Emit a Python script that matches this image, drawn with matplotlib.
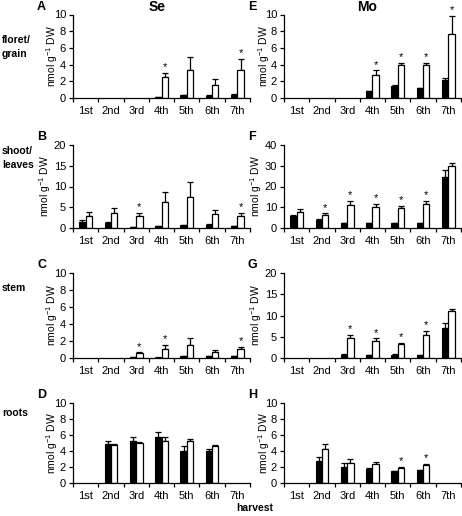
import matplotlib
matplotlib.use("Agg")
import matplotlib.pyplot as plt
import numpy as np

plt.rcParams['font.family'] = ['Liberation Sans', 'DejaVu Sans']
plt.rcParams['mathtext.fontset'] = 'custom'
plt.rcParams['mathtext.rm'] = 'Liberation Sans'
plt.rcParams['mathtext.default'] = 'regular'

harvests = ["1st", "2nd", "3rd", "4th", "5th", "6th", "7th"]
nan = np.nan

# Se floret/grain (A)
A_ctrl = [nan, nan, nan, 0.1, 0.35, 0.25, 0.4]
A_ctrl_err = [0, 0, 0, 0.02, 0.05, 0.05, 0.05]
A_trt = [nan, nan, nan, 2.5, 3.3, 1.5, 3.4]
A_trt_err = [0, 0, 0, 0.5, 1.6, 0.75, 1.25]
A_sig = [3, 6]

# Se shoot/leaves (B)
B_ctrl = [1.5, 1.3, 0.3, 0.5, 0.7, 0.8, 0.5]
B_ctrl_err = [0.5, 0.1, 0.05, 0.1, 0.1, 0.1, 0.05]
B_trt = [2.8, 3.6, 2.9, 6.3, 7.5, 3.3, 2.8]
B_trt_err = [1.0, 1.3, 0.7, 2.3, 3.7, 1.1, 0.8]
B_sig = [2, 6]

# Se stem (C)
C_ctrl = [nan, nan, 0.1, 0.05, 0.2, 0.2, 0.2]
C_ctrl_err = [0, 0, 0.02, 0.02, 0.05, 0.05, 0.05]
C_trt = [nan, nan, 0.6, 1.1, 1.5, 0.7, 1.05]
C_trt_err = [0, 0, 0.05, 0.4, 0.8, 0.25, 0.3]
C_sig = [2, 3, 6]

# Se roots (D)
D_ctrl = [nan, 4.9, 5.3, 5.7, 4.0, 4.0, nan]
D_ctrl_err = [0, 0.4, 0.4, 0.7, 0.6, 0.3, 0]
D_trt = [nan, 4.8, 5.0, 5.2, 5.2, 4.6, nan]
D_trt_err = [0, 0.1, 0.1, 0.5, 0.3, 0.2, 0]
D_sig = []

# Mo floret/grain (E)
E_ctrl = [nan, nan, nan, 0.8, 1.4, 1.2, 2.1]
E_ctrl_err = [0, 0, 0, 0.05, 0.1, 0.05, 0.3]
E_trt = [nan, nan, nan, 2.8, 4.0, 4.0, 7.7]
E_trt_err = [0, 0, 0, 0.5, 0.25, 0.25, 2.1]
E_sig = [3, 4, 5, 6]

# Mo shoot/leaves (F)
F_ctrl = [6.0, 4.0, 2.5, 2.5, 2.5, 2.5, 24.5]
F_ctrl_err = [0.3, 0.3, 0.1, 0.1, 0.1, 0.1, 3.5]
F_trt = [7.5, 6.5, 11.0, 10.3, 9.5, 11.8, 30.0]
F_trt_err = [1.5, 0.5, 2.0, 1.2, 1.0, 1.2, 1.5]
F_sig = [1, 2, 3, 4, 5]

# Mo stem (G)
G_ctrl = [nan, nan, 0.8, 0.6, 0.8, 0.6, 7.0]
G_ctrl_err = [0, 0, 0.05, 0.05, 0.05, 0.05, 1.2]
G_trt = [nan, nan, 4.8, 4.0, 3.2, 5.3, 11.0]
G_trt_err = [0, 0, 0.6, 0.6, 0.3, 1.0, 0.5]
G_sig = [2, 3, 4, 5]

# Mo roots (H)
H_ctrl = [nan, 2.7, 2.0, 1.7, 1.5, 1.6, nan]
H_ctrl_err = [0, 0.6, 0.5, 0.2, 0.05, 0.05, 0]
H_trt = [nan, 4.3, 2.5, 2.4, 1.9, 2.3, nan]
H_trt_err = [0, 0.6, 0.5, 0.2, 0.1, 0.1, 0]
H_sig = [4, 5]

panels = [
    ("A", A_ctrl, A_ctrl_err, A_trt, A_trt_err, A_sig, 10, 2),
    ("B", B_ctrl, B_ctrl_err, B_trt, B_trt_err, B_sig, 20, 5),
    ("C", C_ctrl, C_ctrl_err, C_trt, C_trt_err, C_sig, 10, 2),
    ("D", D_ctrl, D_ctrl_err, D_trt, D_trt_err, D_sig, 10, 2),
    ("E", E_ctrl, E_ctrl_err, E_trt, E_trt_err, E_sig, 10, 2),
    ("F", F_ctrl, F_ctrl_err, F_trt, F_trt_err, F_sig, 40, 10),
    ("G", G_ctrl, G_ctrl_err, G_trt, G_trt_err, G_sig, 20, 5),
    ("H", H_ctrl, H_ctrl_err, H_trt, H_trt_err, H_sig, 10, 2),
]

W, H = 462, 516
fig = plt.figure(figsize=(W / 100, H / 100), dpi=100)

col_x = [73, 284]
ax_w = 177
row_y = [(14.5, 98), (145, 228), (273, 358), (403, 483)]

fs = 8
for k, (letter, c, ce, t, te, sig, ymax, ystep) in enumerate(panels):
    col = k // 4
    row = k % 4
    y0, y1 = row_y[row]
    ax = fig.add_axes([col_x[col] / W, 1 - y1 / H, ax_w / W, (y1 - y0) / H])
    x = np.arange(len(harvests))
    bw = 0.25
    ax.bar(x - bw / 2, c, bw, color="black", edgecolor="black", linewidth=0.8, zorder=2)
    ax.bar(x + bw / 2, t, bw, color="white", edgecolor="black", linewidth=0.9, zorder=2)
    c_arr = np.array(c, float)
    t_arr = np.array(t, float)
    ce_arr = np.array(ce, float)
    te_arr = np.array(te, float)
    mc = ~np.isnan(c_arr)
    mt = ~np.isnan(t_arr)
    ax.errorbar(x[mc] - bw / 2, c_arr[mc], yerr=[np.zeros(mc.sum()), ce_arr[mc]],
                fmt="none", ecolor="black", elinewidth=0.9, capsize=2.5, capthick=0.9, zorder=1)
    ax.errorbar(x[mt] + bw / 2, t_arr[mt], yerr=[np.zeros(mt.sum()), te_arr[mt]],
                fmt="none", ecolor="black", elinewidth=0.9, capsize=2.5, capthick=0.9, zorder=1)
    for i in sig:
        top = t_arr[i] + te_arr[i]
        ax.text(x[i] + bw / 2, top + ymax * 0.01, "*", ha="center", va="bottom",
                fontsize=8)
    ax.set_xlim(-0.5, len(harvests) - 0.5)
    ax.set_ylim(0, ymax)
    yt = np.arange(0, ymax + 0.1, ystep)
    ax.set_yticks(yt)
    ax.set_yticklabels([str(int(v)) for v in yt], fontsize=fs)
    ax.set_xticks(x)
    ax.set_xticklabels(harvests, fontsize=fs)
    ax.set_xticks(np.arange(-0.5, len(harvests), 1), minor=True)
    ax.tick_params(axis="x", which="major", length=0, pad=6)
    ax.tick_params(axis="x", which="minor", length=3, width=0.9, direction="out")
    ax.tick_params(axis="y", length=3, width=0.9, direction="out", pad=2)
    for s in ["top", "right"]:
        ax.spines[s].set_visible(False)
    for s in ["left", "bottom"]:
        ax.spines[s].set_linewidth(0.9)
    ax.set_ylabel("nmol g$^{-1}$ DW", fontsize=7.5)
    off = 20 if ymax >= 20 else 12.5
    ax.yaxis.set_label_coords(-off / ax_w, 0.5)
    fig.text((col_x[col] - 36) / W, 1 - (y0 - 8) / H, letter, fontsize=9,
             fontweight="bold", ha="left", va="center")

row_labels = ["floret/\ngrain", "shoot/\nleaves", "stem", "roots"]
row_label_y = [47, 158, 288, 413]
for lab, yy in zip(row_labels, row_label_y):
    fig.text(2 / W, 1 - yy / H, lab, fontsize=7.5, fontweight="bold",
             ha="left", va="center", linespacing=1.5)

fig.text(157 / W, 1 - 7 / H, "Se", fontsize=10, fontweight="bold", ha="center", va="center")
fig.text(367 / W, 1 - 7 / H, "Mo", fontsize=10, fontweight="bold", ha="center", va="center")
fig.text(255 / W, 1 - 508 / H, "harvest", fontsize=7.5, fontweight="bold", ha="center", va="center")

fig.savefig("out.png", dpi=100)
